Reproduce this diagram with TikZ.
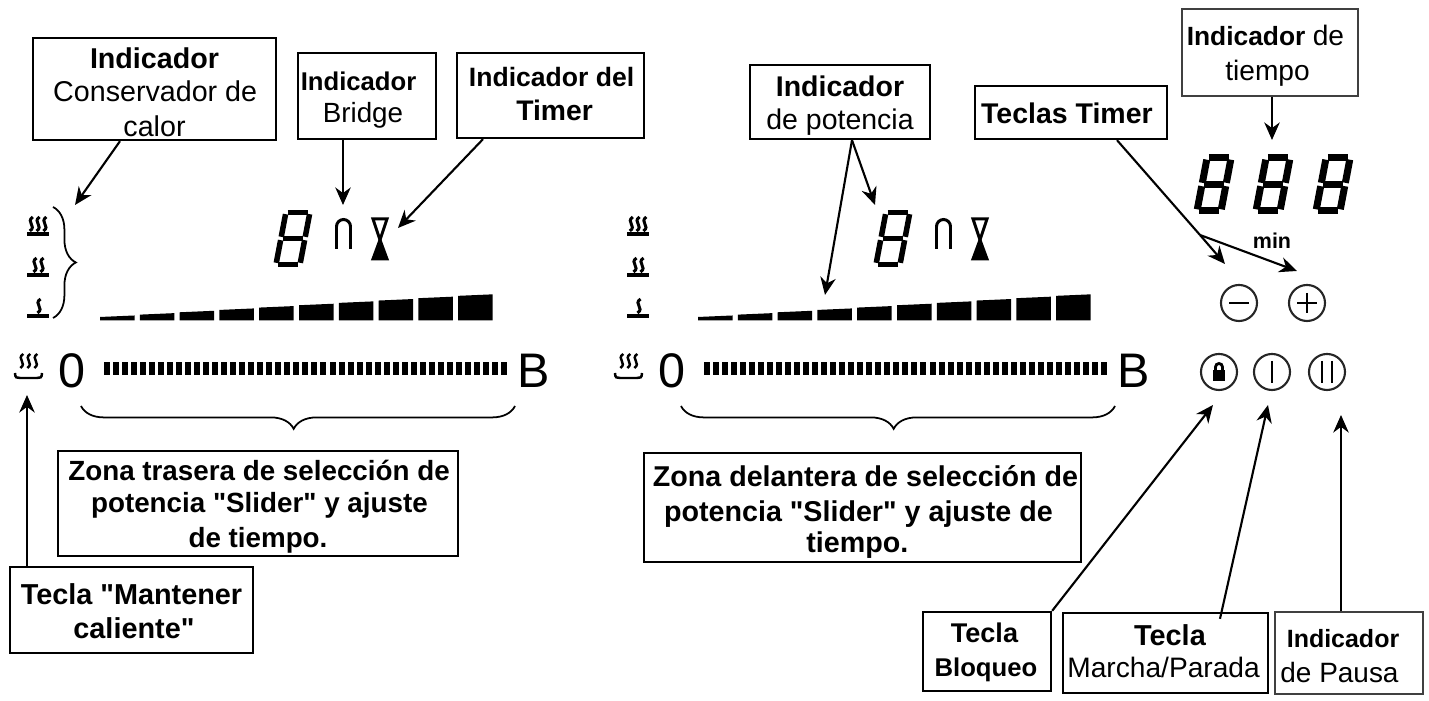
\documentclass[tikz,border=0pt]{standalone}
\usepackage{fontspec}
\setmainfont{Liberation Sans}[Ligatures=TeXOff]
\usetikzlibrary{arrows.meta,calc,decorations.pathreplacing}

\newcommand{\fs}[1]{\fontsize{#1}{8.7}\selectfont}
\newcommand{\dn}[1]{\rule{0pt}{#1pt}} % height above the first line
\newcommand{\li}[2]{\smash{\makebox[0pt]{\hspace*{#1pt}#2}}} % line moved sideways

% seven segments: left, bottom, width, half height, line width
\newcommand{\sevenseg}[5]{%
\begin{scope}[shift={(#1,#2)},xslant=0.19,line width=#5*0.2845pt]
 \foreach \ax/\ay/\bx/\by in {0/0/1/0, 1/0/1/1, 1/1/1/2, 0/2/1/2, 0/1/1/1, 0/0/0/1, 0/1/0/2}
  \draw[shorten >=1.7*0.2845pt, shorten <=1.7*0.2845pt] (\ax*#3,-\ay*#4) -- (\bx*#3,-\by*#4);
\end{scope}}

% wavy lines: left, bar height, how many, pitch
\newcommand{\steam}[4]{%
 \foreach \k in {1,...,#3}
  \draw ({#1+#4*\k-1.5},#2-3) .. controls ({#1+#4*\k+6},#2-8) and ({#1+#4*\k-6},#2-12) .. ({#1+#4*\k+1.5},#2-17);}

\begin{document}
\begin{tikzpicture}[
            x = 0.01cm, y = -0.01cm, % one unit is one pixel of the page
            > = {Stealth[length=5pt,width=4.4pt]}, % arrow head style
            box/.style = {draw=black, line width=0.65pt, fill=white, align=center, inner sep=0pt, text=black},
            thinbox/.style = {box, draw=black!75, line width=0.4pt},
            link/.style = {line width=0.6pt},
            keyring/.style = {shape=circle, draw=black!85, line width=0.6pt, minimum size=0.36cm, inner sep=0pt},
            brace/.style = {decorate, line width=0.5pt}
        ]
\useasboundingbox (0,0) rectangle (1429,701);

% panels, the right one is the left one moved
\foreach \px/\bx in {0/0, 600/598} {
 % heat levels
 \draw[line width=1pt] (27+\px,234) -- (49+\px,234);
 \draw[line width=1pt] (27+\px,275) -- (49+\px,275);
 \draw[line width=1pt] (27+\px,316) -- (49+\px,316);
 \begin{scope}[line width=0.85pt]
 \steam{24.5+\px}{234}{3}{6.8}
 \steam{28+\px}{275}{2}{7}
 \steam{32+\px}{316}{1}{7}
 \end{scope}
 % keep warm key
 \draw[line width=0.7pt] (15+\px,373) .. controls (15+\px,378) and (17+\px,378) .. (20+\px,378) -- (37+\px,378) .. controls (40+\px,378) and (42+\px,378) .. (42+\px,373);
 \begin{scope}[line width=0.7pt]
 \steam{14.8+\px}{371}{3}{7}
 \end{scope}
 % bridge symbol
 \draw[line width=0.85pt] (336.5+\px,249) -- (336.5+\px,226.5) arc[start angle=180, end angle=360, radius=7] -- (350.5+\px,249);
 % hourglass symbol
 \draw[line width=0.85pt] (373+\px,219) -- (387+\px,219) -- (380+\px,240) -- cycle;
 \fill[draw=black, line width=0.85pt] (373+\px,259) -- (387+\px,259) -- (380+\px,240) -- cycle;
 % power bars
 \foreach \i in {0,...,9}
  \fill ({100+\bx+39.8*\i},320.5) -- ({134.5+\bx+39.8*\i},320.5) -- ({134.5+\bx+39.8*\i},{315.5-2.35*\i}) -- ({100+\bx+39.8*\i},{317-2.35*\i}) -- cycle;
 % slider
 \foreach \i in {0,...,44}
  \fill ({104+\px+9.02*\i},362) rectangle ({110+\px+9.02*\i},375);
 % digit
 \sevenseg{276+\px}{264.5}{24}{26}{5.5}
 \node[font=\fs{13.8}] (zero\px) at (72+\px,371) {0};
 \node[font=\fs{13.8}] (letter\px) at (534+\px,371) {B};
 % brace below the slider
 \draw[brace, decoration={brace, mirror, amplitude=6.5pt, aspect=0.49}] (81+\px,406) -- (515+\px,406);
}

% brace of the heat levels
\draw[brace, decoration={brace, amplitude=6.5pt}] (53,207) -- (53,318);

% timer display
\sevenseg{1197}{211}{24}{26.5}{7}
\sevenseg{1256}{211}{24}{26.5}{7}
\sevenseg{1316}{211}{24}{26.5}{7}
\node[font=\fs{6.1}\bfseries] (minText) at (1272,241) {min};

% keys
\node[keyring] (keyMinus) at (1239,303) {};
\node[keyring] (keyPlus) at (1307,303) {};
\node[keyring] (keyLock) at (1219,372) {};
\node[keyring] (keyOn) at (1272,372) {};
\node[keyring] (keyPause) at (1327,372) {};
\draw[line width=0.5pt] (1229,303) -- (1249,303);
\draw[line width=0.5pt] (1297,303) -- (1317,303) (1307,293) -- (1307,313);
\fill (1213,370) rectangle (1225,381);
\draw[line width=0.8pt] (1215.5,370) -- (1215.5,367) arc[start angle=180, end angle=360, radius=3.5] -- (1222.5,370);
\draw[line width=0.6pt] (1272,361) -- (1272,383);
\draw[line width=0.6pt] (1322,361) -- (1322,383) (1332,361) -- (1332,383);

% boxes
\node[box, minimum width=2.43cm, minimum height=1.02cm, font=\fs{8.15}] (boxHeat) at (154.5,89) {\dn{7.7}\li{0}{\textbf{Indicador}}\\[0.7pt]\li{0.4}{Conservador de}\\[1pt]\li{0}{calor}};
\node[box, minimum width=1.38cm, minimum height=0.86cm, font=\fs{7.3}] (boxBridge) at (367,96) {\dn{5.7}\li{-4.8}{\textbf{Indicador}}\\[0.4pt]\li{-2.3}{\fs{7.9}Bridge}};
\node[box, minimum width=1.87cm, minimum height=0.85cm, font=\fs{7.55}] (boxTimer) at (550.5,95.5) {\dn{4.8}\li{0.6}{\textbf{Indicador del}}\\[1pt]\li{2.3}{\fs{8.05}\textbf{Timer}}};
\node[box, minimum width=1.8cm, minimum height=0.74cm, font=\fs{8.1}] (boxPower) at (840,102) {\dn{6.5}\li{0}{\textbf{Indicador}}\\[0.7pt]\li{0}{de potencia}};
\node[box, minimum width=1.92cm, minimum height=0.53cm, font=\fs{8.1}] (boxKeys) at (1071,112.5) {\dn{6.5}\li{-2.3}{\textbf{Teclas Timer}}};
\node[thinbox, minimum width=1.76cm, minimum height=0.87cm, font=\fs{8}] (boxTime) at (1270,52.5) {\dn{6}\li{-2.6}{\fs{7.5}\textbf{Indicador} \fs{8}de}\\[1pt]\li{-1.4}{tiempo}};
\node[box, minimum width=4cm, minimum height=1.05cm, font=\fs{7.9}] (boxRear) at (258,503.5) {\dn{6}\li{0.6}{\textbf{Zona trasera de selección de}}\\[0.4pt]\li{0.8}{\textbf{potencia "Slider" y ajuste}}\\[1pt]\li{0}{\textbf{de tiempo.}}};
\node[box, minimum width=4.37cm, minimum height=1.09cm, font=\fs{8.15}] (boxFront) at (862.5,507.5) {\dn{6.8}\li{1.7}{\textbf{Zona delantera de selección de}}\\[1.25pt]\li{-2.3}{\textbf{potencia "Slider" y ajuste de}}\\\li{-2.9}{\textbf{tiempo.}}};
\node[box, minimum width=2.43cm, minimum height=0.86cm, font=\fs{8.2}] (boxWarm) at (131.5,610) {\dn{6.3}\li{0}{\textbf{Tecla "Mantener}}\\[1pt]\li{1.4}{\textbf{caliente"}}};
\node[box, minimum width=1.28cm, minimum height=0.79cm, font=\fs{7.3}] (boxLock) at (987,651.5) {\dn{4.8}\li{-1.4}{\fs{7.7}\textbf{Tecla}}\\[1pt]\li{-0.6}{\textbf{Bloqueo}}};
\node[box, minimum width=2.05cm, minimum height=0.8cm, font=\fs{8}] (boxOn) at (1165.5,653) {\dn{5.1}\li{2.6}{\fs{8.2}\textbf{Tecla}}\\[0.4pt]\li{-1.1}{Marcha/Parada}};
\node[thinbox, minimum width=1.48cm, minimum height=0.82cm, font=\fs{7.1}] (boxPause) at (1349,653) {\dn{7.1}\li{-3.4}{\textbf{Indicador}}\\[1.25pt]\li{-5.4}{\fs{7.95}de Pausa}};

% arrow ends
\coordinate (tipHeat) at (75,205);
\coordinate (tipBridge) at (343,205);
\coordinate (tipTimer) at (398,228);
\coordinate (tipDigit) at (875,205);
\coordinate (tipBars) at (825,295);
\coordinate (tipTime) at (1272,140);
\coordinate (forkKeys) at (1200,235);
\coordinate (tipMinus) at (1225,264);
\coordinate (tipPlus) at (1297,271);
\coordinate (tipWarm) at (27,395);
\coordinate (tipLock) at (1213,405);
\coordinate (tipOn) at (1268,405);
\coordinate (tipPause) at (1341,415);

\path [->, link] ($(boxHeat.south)+(-34.5,0)$) edge (tipHeat);
\path [->, link] (boxBridge.south -| tipBridge) edge (tipBridge);
\path [->, link] ($(boxTimer.south)+(-67.5,0)$) edge (tipTimer);
\path [->, link] ($(boxPower.south)+(12,0)$) edge (tipDigit);
\path [->, link] ($(boxPower.south)+(12,0)$) edge (tipBars);
\path [->, link] (boxTime.south -| tipTime) edge (tipTime);
\path [link] ($(boxKeys.south)+(46,0)$) edge (forkKeys);
\path [->, link] (forkKeys) edge (tipMinus);
\path [->, link] (forkKeys) edge (tipPlus);
\path [->, link] (boxWarm.north -| tipWarm) edge (tipWarm);
\path [->, link] (boxLock.north east) edge (tipLock);
\path [->, link] ($(boxOn.north)+(54.5,7)$) edge (tipOn);
\path [->, link] (boxPause.north -| tipPause) edge (tipPause);
\end{tikzpicture}
\end{document}
